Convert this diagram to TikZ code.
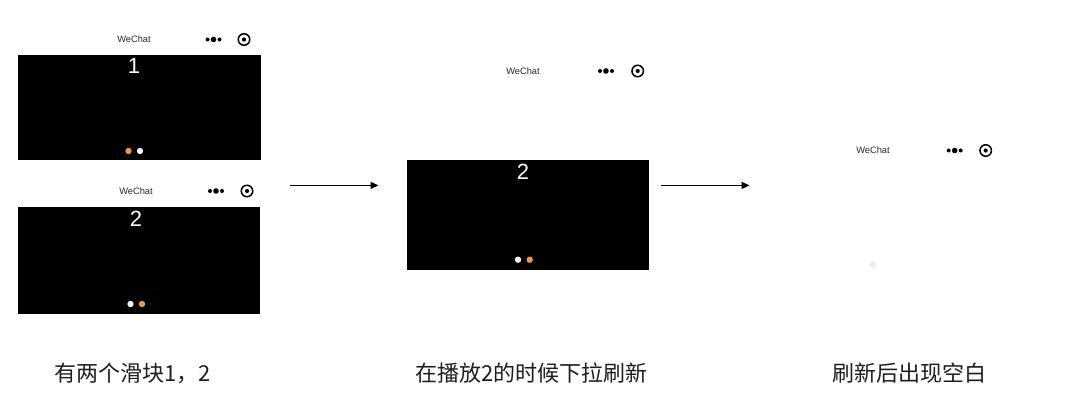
\documentclass[tikz,border=0pt]{standalone}
\usepackage{fontspec}
\setmainfont{Liberation Sans}
\newfontfamily\cjk{Noto Sans CJK SC}
\usetikzlibrary{arrows.meta}
\definecolor{orangedot}{HTML}{F0963C}
\definecolor{whitedot}{HTML}{F2F2F2}
\definecolor{ghostdot}{HTML}{EDEDED}
\definecolor{titlegray}{HTML}{2A2A2A}
\definecolor{caption}{HTML}{1E1E1E}
\tikzset{
  screen/.style={fill=black,minimum width=#1,inner sep=0pt,outer sep=0pt,anchor=north west},
  apptitle/.style={font=\fontsize{9.3}{11}\selectfont,text=titlegray,inner sep=0pt},
  slidenum/.style={font=\fontsize{22}{26}\selectfont,text=white,inner sep=0pt},
  captiontext/.style={font=\cjk\fontsize{22}{26}\selectfont,text=caption,inner sep=0pt},
  flow/.style={draw=black,line width=1.1pt,-{Triangle[length=8pt,width=7pt]}},
  pagerdot/.style={circle,inner sep=0pt,outer sep=0pt,minimum size=6.4pt,fill=#1},
  capsuledot/.style={circle,inner sep=0pt,outer sep=0pt,fill=black,minimum size=#1},
  ring/.style={circle,inner sep=0pt,outer sep=0pt,draw=black,line width=1.5pt,minimum size=11.5pt},
}
\newcommand{\wxbar}[5]{% prefix, title x, title y, dots x, ring x
  \node[apptitle] (#1title) at (#2,#3+0.5) {WeChat};
  \node[capsuledot=5.6pt] (#1dotb) at (#4,#3+0.5) {};
  \node[capsuledot=4pt] (#1dota) at (#4-6,#3+0.5) {};
  \node[capsuledot=4pt] (#1dotc) at (#4+6,#3+0.5) {};
  \node[ring] (#1ring) at (#5,#3+0.5) {};
  \node[capsuledot=4.2pt] (#1ringc) at (#5,#3+0.5) {};
}
\begin{document}
\begin{tikzpicture}[x=1pt,y=-1pt]
\useasboundingbox (0,0) rectangle (1080,409);
\fill[white] (0,0) rectangle (1080,409);

% first column, upper
\wxbar{a}{134}{39}{213.5}{244}
\node[screen=243pt,minimum height=105.8pt] (ascreen) at (18.2,54.6) {};
\node[slidenum] (anum) at (134,66) {1};
\node[pagerdot=orangedot] (adot1) at (128.5,151) {};
\node[pagerdot=whitedot] (adot2) at (140,151) {};

% first column, lower
\wxbar{b}{136}{190.5}{216}{247}
\node[screen=241.5pt,minimum height=107.4pt] (bscreen) at (18.2,206.7) {};
\node[slidenum] (bnum) at (136,218.5) {2};
\node[pagerdot=whitedot] (bdot1) at (130.5,304) {};
\node[pagerdot=orangedot] (bdot2) at (142,304) {};

% second column
\wxbar{c}{523}{70.5}{606}{637.7}
\node[screen=241.6pt,minimum height=110pt] (cscreen) at (407,160) {};
\node[slidenum] (cnum) at (523,171.5) {2};
\node[pagerdot=whitedot] (cdot1) at (518,259.7) {};
\node[pagerdot=orangedot] (cdot2) at (529.7,259.7) {};

% third column
\wxbar{d}{873}{150}{954.7}{985.7}
\node[pagerdot=ghostdot] (ddot) at (873,264.7) {};

% arrows
\coordinate (s1) at (290,185.4);
\coordinate (e1) at (378.5,185.4);
\coordinate (s2) at (661,185.4);
\coordinate (e2) at (749.5,185.4);
\draw[flow] (s1) -- (e1);
\draw[flow] (s2) -- (e2);

% captions
\node[captiontext] (cap1) at (132.3,373) {有两个滑块1，2};
\node[captiontext] (cap2) at (531.3,373) {在播放2的时候下拉刷新};
\node[captiontext] (cap3) at (909.8,373) {刷新后出现空白};
\end{tikzpicture}
\end{document}
